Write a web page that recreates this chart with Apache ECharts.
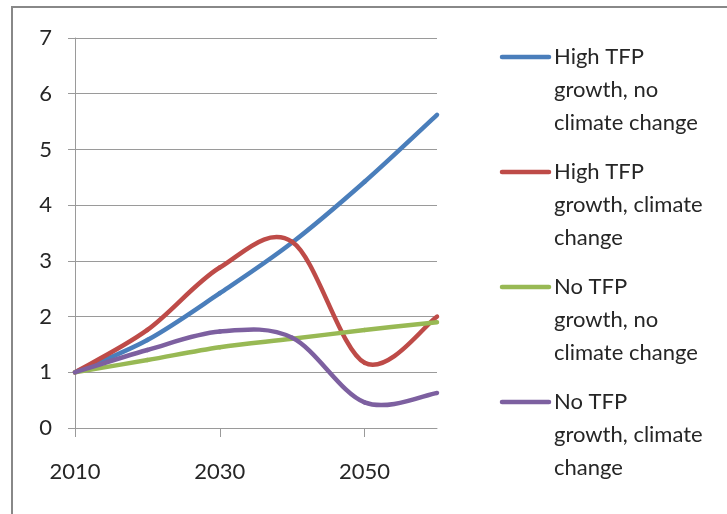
<!DOCTYPE html>
<html>
<head>
<meta charset="utf-8">
<script src="https://cdn.jsdelivr.net/npm/echarts@6/dist/echarts.min.js"></script>
<style>
  html, body { margin: 0; padding: 0; background: #fff; }
  #chart { width: 727px; height: 514px; }
</style>
</head>
<body>
<div id="chart"></div>
<script>
// Years on the category axis
const years = ['2010', '2020', '2030', '2040', '2050', '2060'];

// Index values per scenario (2010 = 1)
const highTfpNoCc = [1, 1.58, 2.42, 3.33, 4.42, 5.62];
const highTfpCc   = [1, 1.76, 2.88, 3.34, 1.17, 2.0];
const noTfpNoCc   = [1, 1.22, 1.45, 1.6, 1.76, 1.9];
const noTfpCc     = [1, 1.40, 1.73, 1.62, 0.46, 0.63];

const seriesNames = [
  'High TFP\ngrowth, no\nclimate change',
  'High TFP\ngrowth, climate\nchange',
  'No TFP\ngrowth, no\nclimate change',
  'No TFP\ngrowth, climate\nchange'
];
const seriesData = [highTfpNoCc, highTfpCc, noTfpNoCc, noTfpCc];
const colors = ['#4a7ebb', '#be4b48', '#98b954', '#7d60a0'];

const font = 'Lato, "Open Sans", sans-serif';
const textColor = '#262626';
const gridColor = '#9a9a9a';

const chart = echarts.init(document.getElementById('chart'));

// Each data item draws the cubic segment from its point to the next one,
// with Catmull-Rom tangents taken from the neighbouring points (in pixels).
function makeRenderItem(values, color) {
  return function (params, api) {
    const i = params.dataIndex;
    const n = values.length;
    if (i >= n - 1) return null;
    const pt = k => api.coord([Math.max(0, Math.min(n - 1, k)), values[Math.max(0, Math.min(n - 1, k))]]);
    const p0 = pt(i - 1), p1 = pt(i), p2 = pt(i + 1), p3 = pt(i + 2);
    const c1 = [p1[0] + (p2[0] - p0[0]) / 6, p1[1] + (p2[1] - p0[1]) / 6];
    const c2 = [p2[0] - (p3[0] - p1[0]) / 6, p2[1] - (p3[1] - p1[1]) / 6];
    return {
      type: 'bezierCurve',
      shape: {
        x1: p1[0], y1: p1[1],
        cpx1: c1[0], cpy1: c1[1],
        cpx2: c2[0], cpy2: c2[1],
        x2: p2[0], y2: p2[1]
      },
      style: { stroke: color, lineWidth: 4.5, fill: 'none', lineCap: 'round' }
    };
  };
}

// Legend entries: a short coloured stroke beside a three-line caption
const legendTop = 57, legendStep = 115, lineH = 33;
const legendGraphics = [];
seriesNames.forEach((name, i) => {
  const y = legendTop + i * legendStep;
  legendGraphics.push({
    type: 'line',
    shape: { x1: 502, y1: y, x2: 549, y2: y },
    style: { stroke: colors[i], lineWidth: 4.5, lineCap: 'round' }
  });
  legendGraphics.push({
    type: 'text',
    x: 554,
    y: y - lineH / 2,
    style: {
      text: name,
      font: '22px ' + font,
      fill: textColor,
      lineHeight: lineH,
      verticalAlign: 'top',
      align: 'left'
    }
  });
});

chart.setOption({
  animation: false,
  backgroundColor: '#fff',
  grid: { left: 75, right: 290, top: 38, bottom: 86, containLabel: false },
  xAxis: {
    type: 'category',
    data: years,
    boundaryGap: false,
    axisLine: { lineStyle: { color: gridColor, width: 1 } },
    axisTick: { interval: 1, length: 9, lineStyle: { color: gridColor } },
    axisLabel: {
      interval: 1, margin: 33, fontSize: 22, fontFamily: font, color: textColor
    },
    splitLine: { show: false }
  },
  yAxis: {
    type: 'value',
    min: 0,
    max: 7,
    interval: 1,
    axisLine: { show: true, lineStyle: { color: gridColor, width: 1 } },
    axisTick: { show: true, length: 7, lineStyle: { color: gridColor } },
    axisLabel: { margin: 23, fontSize: 22, fontFamily: font, color: textColor },
    splitLine: { lineStyle: { color: gridColor, width: 1 } }
  },
  series: seriesData.map((d, i) => ({
    name: seriesNames[i],
    type: 'custom',
    data: d.map((v, k) => [k, v]),
    encode: { x: 0, y: 1 },
    renderItem: makeRenderItem(d, colors[i]),
    clip: false,
    z: 2 + i
  })),
  graphic: [
    {
      type: 'rect',
      shape: { x: 12, y: 7, width: 740, height: 540 },
      style: { fill: 'none', stroke: '#888', lineWidth: 2 },
      silent: true
    }
  ].concat(legendGraphics)
});
</script>
</body>
</html>
